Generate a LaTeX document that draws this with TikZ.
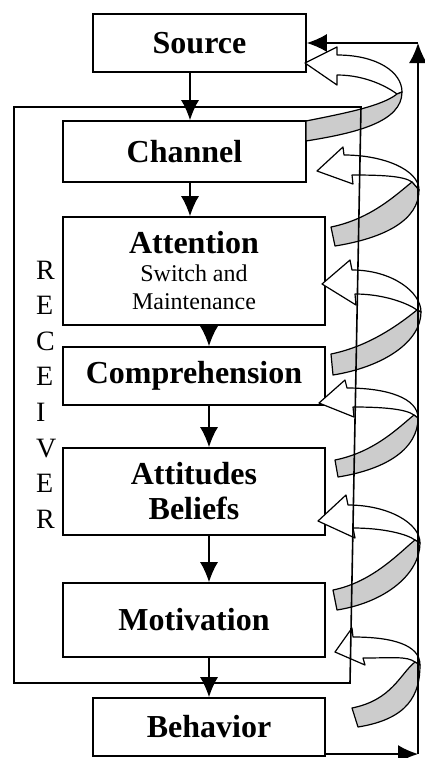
\documentclass[tikz,border=0pt]{standalone}
\usepackage{fontspec}
\setmainfont{Liberation Serif}
\usetikzlibrary{arrows.meta}

\newcommand{\feedbackloop}[9]{%
  \draw[loopline, fill=white] (#1) -- (#2) -- (#3) .. controls +(40,0) and +(0,-20) .. (#6)
    -- (#7) .. controls +(-8,-6) and +(30,0) .. (#4) -- (#5) -- cycle;
  \draw[loopline, fill=gray!40] (#8) .. controls +(40,-8) and +(-15,12) .. (#7)
    -- (#6) .. controls +(0,30) and +(50,-8) .. (#9) -- cycle;}

\begin{document}
\begin{tikzpicture}[x=1pt, y=-1pt, >={Latex[length=20pt,width=18pt]},
    box/.style={draw, line width=1.6pt, inner sep=0pt, align=center,
      font=\fontsize{32}{28}\selectfont\bfseries},
    flow/.style={->, line width=1.6pt},
    loopline/.style={line width=1.2pt, line join=round}]
    \useasboundingbox (0,0) rectangle (424,758);
    \node[box, minimum width=213pt, minimum height=58pt] (source) at (199.5,43) {Source};
    \node[box, minimum width=243pt, minimum height=61pt] (channel) at (184.5,151.5) {Channel};
    \node[box, minimum width=262pt, minimum height=108pt] (attention) at (194,271)
      {Attention\\{\normalfont\fontsize{24}{28}\selectfont Switch and}\\{\normalfont\fontsize{24}{28}\selectfont Maintenance}};
    \node[box, minimum width=262pt, minimum height=58pt] (comprehension) at (194,376) {Comprehension};
    \node[box, minimum width=262pt, minimum height=87pt] (attitudes) at (194,491.5) {Attitudes\\[7pt]Beliefs};
    \node[box, minimum width=262pt, minimum height=74pt] (motivation) at (194,620) {Motivation};
    \node[box, minimum width=232pt, minimum height=58pt] (behavior) at (209,727) {Behavior};
    \node[font=\fontsize{28}{35.6}\selectfont, align=left, anchor=north west, inner sep=0pt]
      (receiver) at (36,260.5) {R\\E\\C\\E\\I\\V\\E\\R};
    \draw[flow] ([xshift=-9.5pt]source.south) -- ([xshift=5.5pt]channel.north);
    \draw[flow] ([xshift=5.5pt]channel.south) -- ([xshift=-4pt]attention.north);
    \draw[flow] ([xshift=15pt]attention.south) -- ([xshift=15pt]comprehension.north);
    \draw[flow] ([xshift=15pt]comprehension.south) -- ([xshift=15pt]attitudes.north);
    \draw[flow] ([xshift=15pt]attitudes.south) -- ([xshift=15pt]motivation.north);
    \draw[flow] ([xshift=15pt]motivation.south) -- (behavior.north);
    \feedbackloop{305,63}{337,47}{337,55}{337,75}{337,85}{402,92}{397,94}{306,121}{306,141}
    \feedbackloop{317,171}{343,147}{344,155}{352,175}{353,184}{419,190}{412,182}{331,227}{335,246}
    \feedbackloop{322,284}{350,260}{352,270}{355,294}{356,305}{421,312}{417,310}{331,354}{333,375}
    \feedbackloop{319,403}{345,380}{347,388}{353,407}{354,417}{418,418}{414,415}{335,460}{338,477}
    \feedbackloop{318,521}{346,495}{348,505}{353,528}{355,538}{420,543}{415,540}{333,590}{337,610}
    \feedbackloop{335,652}{352,628}{353,637}{363,658}{365,665}{420,665}{415,662}{352,708}{358,727}
    \draw[line width=1.6pt] (14,107) -- (361,107) -- (350,683) -- (14,683) -- cycle;
    \coordinate (cornerlow) at (418,754);
    \coordinate (cornerup) at (418,43);
    \draw[flow] (behavior.south east |- cornerlow) -- (cornerlow);
    \draw[flow] (cornerlow) -- (cornerup);
    \draw[flow] (cornerup) -- (source.east);
  \end{tikzpicture}
\end{document}
